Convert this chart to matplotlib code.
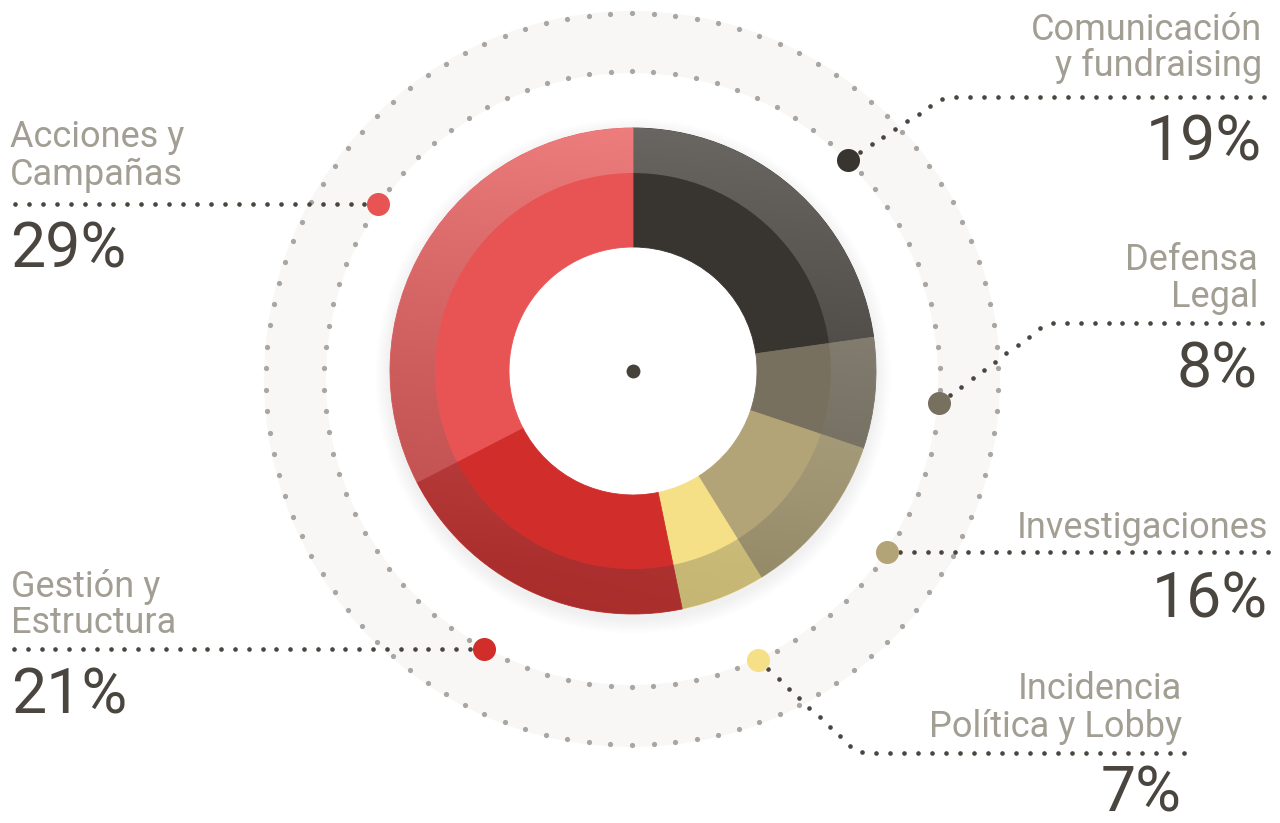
import numpy as np
import matplotlib.pyplot as plt
from matplotlib.patches import Wedge, Circle

# ---- data (clockwise from the top of the donut) ----
categories = ["Comunicación\ny fundraising", "Defensa\nLegal", "Investigaciones",
              "Incidencia\nPolítica y Lobby", "Gestión y\nEstructura", "Acciones y\nCampañas"]
percent_labels = [19, 8, 16, 7, 21, 29]
# share of the circle each slice takes in the drawing
arc_shares = [22.8, 7.4, 11.0, 5.6, 20.7, 32.6]
slice_colors = ["#38342f", "#78705f", "#b2a477", "#f5e088", "#d02d2b", "#e85353"]

# ---- layout (pixels, y downward) ----
W, H = 1280, 823
cx, cy = 633, 371              # donut centre
R_out, R_mid, R_in = 243, 198, 124
bx, by = 632, 379              # dotted band centre
R_band_in, R_band_out = 306, 368
R_dots_in, R_dots_out = 308, 366

LABEL_C = "#a29e93"
PCT_C = "#4a463f"
LEAD_C = "#4a463f"
FONT = ["Roboto", "DejaVu Sans"]

# anchor angle on the dotted circle, text x, alignment, rule y, elbow x, rule end x,
# baselines of the label lines, baseline of the percentage
layout = [
    dict(ang=45.4, x=1262, ha="right", rule=97, elbow=948, end=1264, lines=[40, 76], pct=160),
    dict(ang=-4.5, x=1258, ha="right", rule=323, elbow=1052, end=1262, lines=[270, 307], pct=387),
    dict(ang=-34.2, x=1268, ha="right", rule=552, elbow=None, end=1268, lines=[538], pct=618),
    dict(ang=-65.8, x=1182, ha="right", rule=753, elbow=864, end=1184, lines=[699, 737], pct=811),
    dict(ang=-118.8, x=11, ha="left", rule=649, elbow=None, end=14, lines=[597, 633], pct=714),
    dict(ang=145.4, x=10, ha="left", rule=204, elbow=None, end=15, lines=[147, 185], pct=268),
]


def dotted_path(points, step):
    pts = np.asarray(points, float)
    seg = np.diff(pts, axis=0)
    cum = np.concatenate([[0], np.cumsum(np.hypot(seg[:, 0], seg[:, 1]))])
    n = max(int(round(cum[-1] / step)), 1)
    d = np.linspace(0, cum[-1], n + 1)
    return np.interp(d, cum, pts[:, 0]), np.interp(d, cum, pts[:, 1])


fig = plt.figure(figsize=(W / 100, H / 100), dpi=100)
ax = fig.add_axes([0, 0, 1, 1])

# light band with two dotted rings
ax.add_patch(Wedge((bx, by), R_band_out, 0, 360, width=R_band_out - R_band_in,
                   facecolor="#f8f7f5", lw=0, zorder=1))
for r, n in [(R_dots_in, 90), (R_dots_out, 106)]:
    th = np.linspace(0, 2 * np.pi, n, endpoint=False) + np.pi / 2
    ax.scatter(bx + r * np.cos(th), by + r * np.sin(th), s=14, color="#a8a5a2", lw=0, zorder=2)

# soft shadow under the donut (ring only, the hole stays white)
for i in range(1, 16):
    ax.add_patch(Wedge((cx, cy + 5), R_out + i, 0, 360, width=R_out + i - R_in - 10,
                       facecolor="black", alpha=0.005, lw=0, zorder=3))

# donut: outer band and inner band
# y axis is inverted below, so counterclock in data = clockwise on screen
outer, _ = ax.pie(arc_shares, colors=slice_colors, radius=R_out, center=(cx, cy),
                  startangle=-90, counterclock=True,
                  wedgeprops=dict(width=R_out - R_mid, lw=0.6))
inner, _ = ax.pie(arc_shares, colors=slice_colors, radius=R_mid, center=(cx, cy),
                  startangle=-90, counterclock=True,
                  wedgeprops=dict(width=R_mid - R_in, lw=0.6))
for w in outer + inner:
    w.set_edgecolor(w.get_facecolor())
    w.set_zorder(4)
ax.add_patch(Circle((cx, cy), R_in - 0.5, facecolor="white", lw=0, zorder=3.5))

# vertical light-to-dark sheen on the outer band
t = np.linspace(0, 1, 256)[:, None]
u = np.linspace(0, 1, 256)[None, :]
shade = np.interp(t, [0, .15, .5, .77, .9, 1], [255, 215, 135, 90, 60, 50]) + 25 * (u - 0.5)
rgba = np.zeros((256, 256, 4))
rgba[..., :3] = np.clip(shade, 0, 255)[..., None] / 255
rgba[..., 3] = 0.25
im = ax.imshow(rgba, extent=(cx - R_out, cx + R_out, cy + R_out, cy - R_out),
               origin="upper", interpolation="bilinear", zorder=5)
im.set_clip_path(Wedge((cx, cy), R_out, 0, 360, width=R_out - R_mid, transform=ax.transData))

ax.scatter([cx], [cy], s=100, color="#46413a", lw=0, zorder=6)

# leaders, anchor dots and labels
for cat, pct, col, lay in zip(categories, percent_labels, slice_colors, layout):
    a = np.deg2rad(lay["ang"])
    px, py = bx + R_dots_in * np.cos(a), by - R_dots_in * np.sin(a)
    if lay["elbow"] is None:
        pts = [(px, py), (lay["end"], lay["rule"])]
    else:
        down = 1 if lay["rule"] > py else -1
        pts = [(px, py), (lay["elbow"] - 10, lay["rule"] - 4 * down),
               (lay["elbow"], lay["rule"]), (lay["end"], lay["rule"])]
    lx, ly = dotted_path(pts, 13.8)
    ax.scatter(lx, ly, s=11, color=LEAD_C, lw=0, zorder=6)
    ax.scatter([px], [py], s=275, color=col, lw=0, zorder=7)

    for line, base in zip(cat.split("\n"), lay["lines"]):
        ax.text(lay["x"], base, line, ha=lay["ha"], va="baseline", fontsize=26,
                color=LABEL_C, family=FONT, zorder=8)
    ax.text(lay["x"], lay["pct"], f"{pct}%", ha=lay["ha"], va="baseline", fontsize=45,
            color=PCT_C, family=FONT, fontweight="normal", zorder=8)

ax.set_xlim(0, W)
ax.set_ylim(H, 0)
ax.set_aspect("equal")
ax.set_axis_off()

fig.savefig("out.png", dpi=100, facecolor="white")
